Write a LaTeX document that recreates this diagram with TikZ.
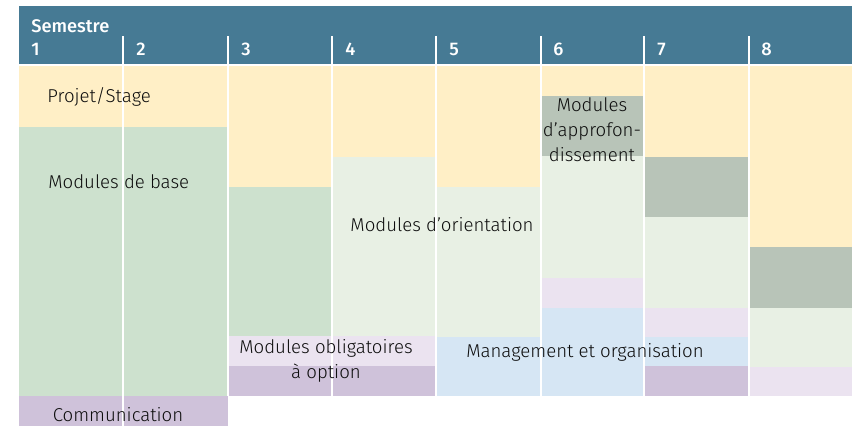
\documentclass[tikz,border=0pt]{standalone}
\usepackage{fontspec}
\setmainfont{Fira Sans}[UprightFont={* Light},BoldFont={* Medium}]

\definecolor{headblue}{RGB}{70,122,148}
\definecolor{stagetan}{RGB}{255,239,198}
\definecolor{basegreen}{RGB}{205,225,206}
\definecolor{orientgreen}{RGB}{232,240,228}
\definecolor{deepgray}{RGB}{184,196,184}
\definecolor{optlav}{RGB}{235,227,240}
\definecolor{optpurple}{RGB}{207,194,218}
\definecolor{mgmtblue}{RGB}{214,230,244}

\begin{document}
\begin{tikzpicture}[x=0.02cm,y=-0.02cm,
  head/.style={fill=headblue},
  stage/.style={fill=stagetan},
  base/.style={fill=basegreen},
  orient/.style={fill=orientgreen},
  deep/.style={fill=deepgray},
  optlight/.style={fill=optlav},
  optdark/.style={fill=optpurple},
  mgmt/.style={fill=mgmtblue},
  divider/.style={white,line width=0.6pt},
  headtext/.style={white,font=\fontsize{10.4}{12}\selectfont\bfseries,anchor=base west,inner sep=0pt},
  label/.style={black!95,font=\fontsize{10.6}{14.2}\selectfont,align=center,inner sep=0pt}]
  \useasboundingbox (0,0) rectangle (852,426);

  % header
  \fill[head] (19,6) rectangle (852,65);

  % semester 1 and 2
  \fill[stage] (19,65) rectangle (228,127);
  \fill[base] (19,127) rectangle (228,396);
  \fill[optdark] (19,396) rectangle (228,426);

  % semester 3
  \fill[stage] (228,65) rectangle (332,187);
  \fill[base] (228,187) rectangle (332,336);
  \fill[optlight] (228,336) rectangle (332,366);
  \fill[optdark] (228,366) rectangle (332,396);

  % semester 4
  \fill[stage] (332,65) rectangle (436,157);
  \fill[orient] (332,157) rectangle (436,336);
  \fill[optlight] (332,336) rectangle (436,366);
  \fill[optdark] (332,366) rectangle (436,396);

  % semester 5
  \fill[stage] (436,65) rectangle (541,187);
  \fill[orient] (436,187) rectangle (541,337);
  \fill[mgmt] (436,337) rectangle (541,396);

  % semester 6
  \fill[stage] (541,65) rectangle (644,96);
  \fill[deep] (541,96) rectangle (644,156);
  \fill[orient] (541,156) rectangle (644,278);
  \fill[optlight] (541,278) rectangle (644,308);
  \fill[mgmt] (541,308) rectangle (644,396);

  % semester 7
  \fill[stage] (644,65) rectangle (749,157);
  \fill[deep] (644,157) rectangle (749,217);
  \fill[orient] (644,217) rectangle (749,308);
  \fill[optlight] (644,308) rectangle (749,337);
  \fill[mgmt] (644,337) rectangle (749,366);
  \fill[optdark] (644,366) rectangle (749,396);

  % semester 8
  \fill[stage] (749,65) rectangle (852,247);
  \fill[deep] (749,247) rectangle (852,308);
  \fill[orient] (749,308) rectangle (852,367);
  \fill[optlight] (749,367) rectangle (852,396);

  % dividers
  \draw[divider] (123,36) -- (123,426);
  \draw[divider] (228,36) -- (228,396);
  \draw[divider] (332,36) -- (332,396);
  \draw[divider] (436,36) -- (436,396);
  \draw[divider] (541,36) -- (541,396);
  \draw[divider] (644,36) -- (644,396);
  \draw[divider] (749,36) -- (749,396);
  \draw[divider] (19,65) -- (852,65);

  % header text
  \node[headtext] (semester) at (31,32) {Semestre};
  \node[headtext] (s1) at (31,55) {1};
  \node[headtext] (s2) at (136,55) {2};
  \node[headtext] (s3) at (241,55) {3};
  \node[headtext] (s4) at (345,55) {4};
  \node[headtext] (s5) at (449,55) {5};
  \node[headtext] (s6) at (553,55) {6};
  \node[headtext] (s7) at (657,55) {7};
  \node[headtext] (s8) at (761,55) {8};

  % module labels
  \node[label,anchor=west] (projet) at (47,97) {Projet/Stage};
  \node[label,anchor=west] (basis) at (48,182) {Modules de base};
  \node[label] (orientation) at (442,225) {Modules d’orientation};
  \node[label] (approf) at (592,130) {Modules\\d’approfon-\\dissement};
  \node[label] (option) at (326,361) {Modules obligatoires\\à option};
  \node[label] (management) at (585,352) {Management et organisation};
  \node[label] (communication) at (118,415) {Communication};
\end{tikzpicture}
\end{document}
